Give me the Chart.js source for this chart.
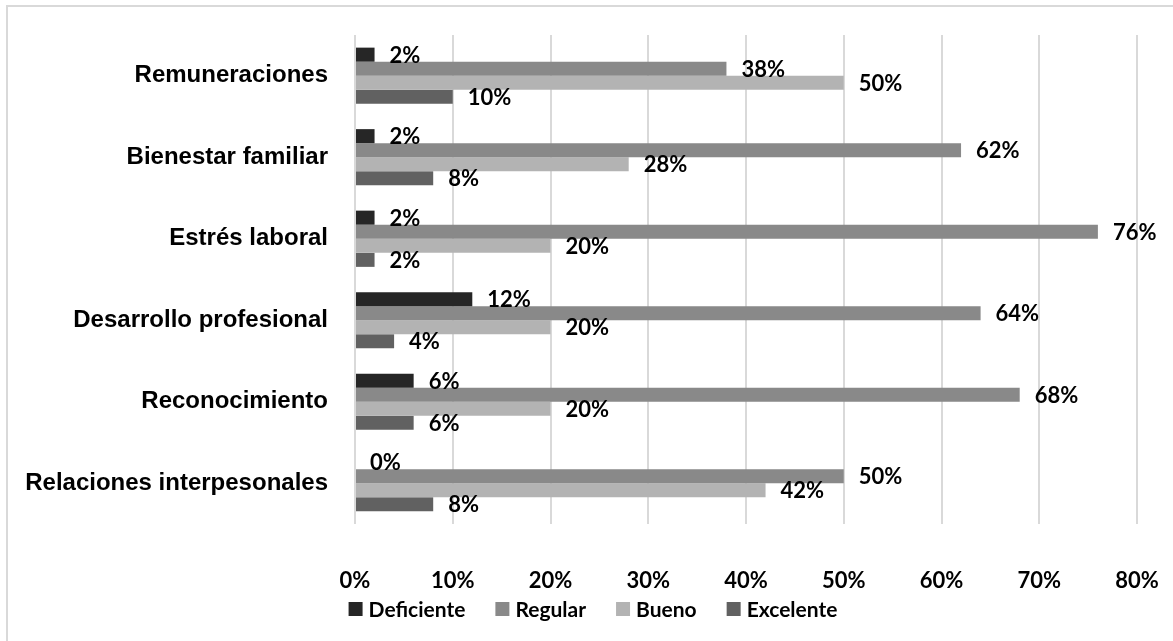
<!DOCTYPE html>
<html>
<head>
<meta charset="utf-8">
<script src="https://cdn.jsdelivr.net/npm/chart.js@4/dist/chart.umd.min.js"></script>
<style>
  html, body { margin: 0; padding: 0; background: #fff; }
  #wrap { width: 1173px; height: 641px; }
</style>
</head>
<body>
<div id="wrap"><canvas id="barChart" width="1173" height="641"></canvas></div>
<script>
const categories = ["Remuneraciones", "Bienestar familiar", "Estrés laboral",
  "Desarrollo profesional", "Reconocimiento", "Relaciones interpesonales"];
const seriesNames = ["Deficiente", "Regular", "Bueno", "Excelente"];
const deficiente = [2, 2, 2, 12, 6, 0];
const regular = [38, 62, 76, 64, 68, 50];
const bueno = [50, 28, 20, 20, 20, 42];
const excelente = [10, 8, 2, 4, 6, 8];
const seriesColors = ["#262626", "#898989", "#b3b3b3", "#616161"];
const axisMax = 80;
const axisStep = 10;

Chart.defaults.font.family = "Lato";
Chart.defaults.color = "#000";

// white background plus the thin grey frame along the top and left
const framePlugin = {
  id: "frame",
  beforeDraw(chart) {
    const ctx = chart.ctx;
    ctx.save();
    ctx.fillStyle = "#fff";
    ctx.fillRect(0, 0, chart.width, chart.height);
    ctx.strokeStyle = "#d9d9d9";
    ctx.lineWidth = 2;
    ctx.strokeRect(7, 6, chart.width + 20, chart.height + 20);
    ctx.restore();
  }
};

// percentage written just past the end of every bar
const valueLabels = {
  id: "valueLabels",
  afterDatasetsDraw(chart) {
    const ctx = chart.ctx;
    ctx.save();
    ctx.font = "bold 22px Lato";
    ctx.fillStyle = "#000";
    ctx.textAlign = "left";
    ctx.textBaseline = "middle";
    chart.data.datasets.forEach((ds, i) => {
      chart.getDatasetMeta(i).data.forEach((bar, j) => {
        ctx.fillText(ds.data[j] + "%", bar.x + 15, bar.y + 1);
      });
    });
    ctx.restore();
  }
};

// legend row under the axis: square swatch + series name, wide gaps
const legendRow = {
  id: "legendRow",
  afterDraw(chart) {
    const ctx = chart.ctx;
    const box = 14, gapText = 6, gapItem = 30, y = 609;
    ctx.save();
    ctx.font = "bold 21px Lato";
    ctx.textBaseline = "middle";
    ctx.textAlign = "left";
    const items = chart.data.datasets.map(ds => ({
      text: ds.label,
      color: ds.backgroundColor,
      w: box + gapText + ctx.measureText(ds.label).width
    }));
    const total = items.reduce((s, it) => s + it.w, 0) + gapItem * (items.length - 1);
    let x = 593 - total / 2;
    items.forEach(it => {
      ctx.fillStyle = it.color;
      ctx.fillRect(x, y - box / 2, box, box);
      ctx.fillStyle = "#000";
      ctx.fillText(it.text, x + box + gapText, y + 1);
      x += it.w + gapItem;
    });
    ctx.restore();
  }
};

const seriesData = [deficiente, regular, bueno, excelente];

const data = {
  labels: categories,
  datasets: seriesNames.map((name, i) => ({
    label: name,
    data: seriesData[i],
    backgroundColor: seriesColors[i],
    borderWidth: 0,
    categoryPercentage: 0.69,
    barPercentage: 1
  }))
};

const config = {
  type: "bar",
  data: data,
  options: {
    indexAxis: "y",
    responsive: false,
    animation: false,
    layout: { padding: { top: 35, right: 36, left: 0, bottom: 47 } },
    scales: {
      x: {
        min: 0,
        max: axisMax,
        ticks: {
          stepSize: axisStep,
          padding: 44,
          font: { size: 22, weight: "bold" },
          callback: (v) => v + "%"
        },
        grid: { color: "#d9d9d9", lineWidth: 2, drawTicks: false },
        border: { display: false },
        afterFit(scale) {
          scale.height = 70;
          scale.paddingLeft = 0;
          scale.paddingRight = 0;
        }
      },
      y: {
        ticks: {
          padding: 27,
          font: { family: "Liberation Sans", size: 24, weight: "bold" }
        },
        grid: { display: false, drawTicks: false },
        border: { display: false },
        afterFit(scale) {
          scale.width = 355;
          scale.paddingTop = 0;
          scale.paddingBottom = 0;
        }
      }
    },
    plugins: {
      legend: { display: false },
      tooltip: { enabled: false }
    }
  },
  plugins: [framePlugin, valueLabels, legendRow]
};

const barChart = new Chart(document.getElementById("barChart"), config);
</script>
</body>
</html>
